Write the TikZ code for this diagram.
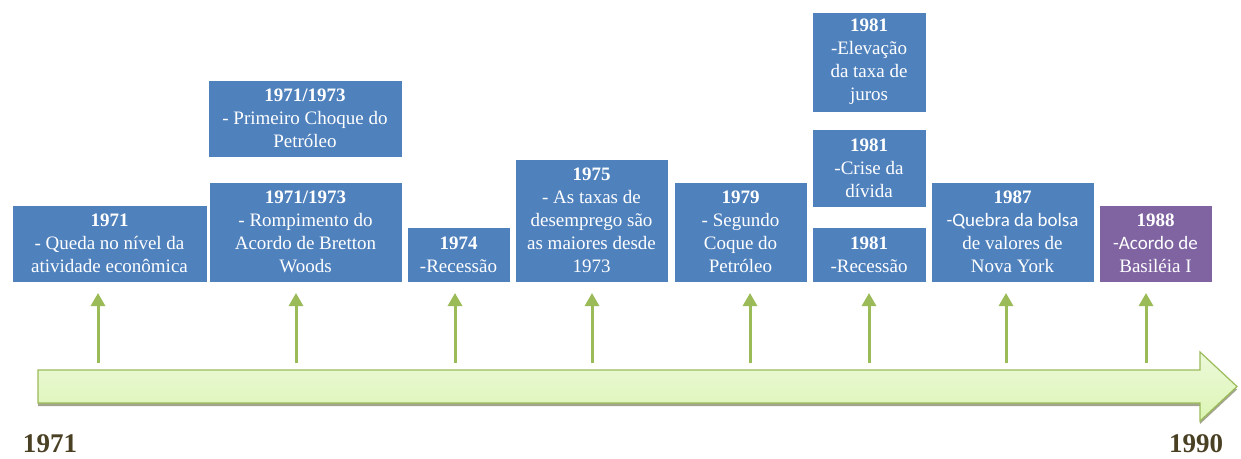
\documentclass[tikz,border=0pt]{standalone}
\usepackage{fontspec}
\setmainfont{Liberation Serif}
\newfontfamily\sansC{Carlito}
\usetikzlibrary{arrows.meta}
\definecolor{boxblue}{HTML}{4F81BD}
\definecolor{boxpurple}{HTML}{8064A2}
\definecolor{arrgreen}{HTML}{9BBB59}
\definecolor{tltop}{HTML}{ECF9DA}
\definecolor{tlbot}{HTML}{DCF5B4}
\definecolor{yearcol}{HTML}{4A4024}
\definecolor{shadowcol}{HTML}{A3A48E}
\tikzset{
  evbox/.style={fill=boxblue, draw=white, line width=0.8pt, text=white, align=center,
    inner sep=0pt, font=\rmfamily\fontsize{19}{23}\selectfont},
  evpurple/.style={evbox, fill=boxpurple},
  uparrow/.style={draw=arrgreen, line width=3pt, -{Triangle[width=14pt,length=13pt]}},
  yearlab/.style={text=yearcol, font=\rmfamily\fontsize{27}{29}\selectfont\bfseries, inner sep=0pt},
}
\begin{document}
\begin{tikzpicture}[x=1pt,y=-1pt]
\useasboundingbox (0,0) rectangle (1241,458);

% timeline arrow
\fill[shadowcol] (38,373) -- (1200,373) -- (1200,355) -- (1237,389.5) -- (1200,424) -- (1200,406) -- (38,406) -- cycle;
\shade[top color=tltop, bottom color=tlbot, draw=arrgreen, line width=1.2pt]
  (38,370) -- (1200,370) -- (1200,352) -- (1237,386.5) -- (1200,421) -- (1200,403) -- (38,403) -- cycle;
\coordinate (timeline) at (38,370);

% boxes
\node[evbox, minimum width=195, minimum height=77] (b71) at (109.5,243.5)
  {\textbf{1971}\\ - Queda no nível da\\ atividade econômica};
\node[evbox, minimum width=193, minimum height=100] (b73l) at (305.5,232)
  {\textbf{1971/1973}\\ - Rompimento do\\ Acordo de Bretton\\ Woods};
\node[evbox, minimum width=194, minimum height=77] (b73u) at (305,118.5)
  {\textbf{1971/1973}\\ - Primeiro Choque do\\ Petróleo};
\node[evbox, minimum width=103, minimum height=55] (b74) at (458.5,254.5)
  {\textbf{1974}\\ -Recessão};
\node[evbox, minimum width=153, minimum height=123] (b75) at (591.5,220.5)
  {\textbf{1975}\\ - As taxas de\\ desemprego são\\ as maiores desde\\ 1973};
\node[evbox, minimum width=133, minimum height=100] (b79) at (740.5,232)
  {\textbf{1979}\\ - Segundo\\ Coque do\\ Petróleo};
\node[evbox, minimum width=114, minimum height=100] (b81a) at (869,62)
  {\textbf{1981}\\ -Elevação\\ da taxa de\\ juros};
\node[evbox, minimum width=114, minimum height=78] (b81b) at (869,168)
  {\textbf{1981}\\ -Crise da\\ dívida};
\node[evbox, minimum width=114, minimum height=55] (b81c) at (869,254.5)
  {\textbf{1981}\\ -Recessão};
\node[evbox, minimum width=163, minimum height=100] (b87) at (1012.5,232)
  {\textbf{1987}\\ \sansC -Quebra da bolsa\\ de valores de\\ Nova York};
\node[evpurple, minimum width=113, minimum height=77] (b88) at (1155.5,243.5)
  {\textbf{1988}\\ \sansC -Acordo de\\ Basiléia I};

% arrows
\foreach \i/\x in {1/98,2/296,3/455,4/592,5/750,6/869,7/1006,8/1146}{
  \coordinate (s\i) at (\x,363);
  \coordinate (e\i) at (\x,293);
  \draw[uparrow] (s\i) -- (e\i);
}

% year labels
\node[yearlab] (y1971) at (50,444) {1971};
\node[yearlab] (y1990) at (1196,444) {1990};
\end{tikzpicture}
\end{document}
